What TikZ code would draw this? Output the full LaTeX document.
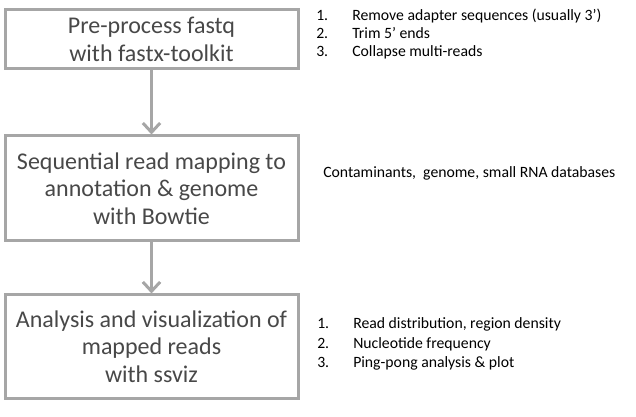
\documentclass[tikz,border=0pt]{standalone}
\usepackage{fontspec}
\setmainfont{Carlito}
\usetikzlibrary{arrows.meta}
\definecolor{boxline}{RGB}{166,166,166}
\definecolor{boxtext}{RGB}{72,72,72}

\begin{document}
\begin{tikzpicture}[x=0.75pt,y=-0.75pt,
  stage/.style={draw=boxline, line width=2.25pt, fill=white, text=boxtext, align=center,
    minimum width=219.75pt, inner sep=0pt, font=\fontsize{18}{20.6}\selectfont},
  flow/.style={draw=boxline, line width=2.25pt, -{Straight Barb[length=7pt,width=13pt]}},
  item/.style={anchor=base west, inner sep=0pt, font=\fontsize{11.8}{14}\selectfont}]
\useasboundingbox (0,0) rectangle (636,417);

\node[stage, minimum height=44.25pt] (pre) at (151.5,39.5) {Pre-process fastq\\with fastx-toolkit};
\node[stage, minimum height=78.75pt] (map) at (151.5,188.5) {Sequential read mapping to\\annotation \& genome\\with Bowtie};
\node[stage, minimum height=77.6pt] (viz) at (151.5,346.7) {Analysis and visualization of\\mapped reads\\with ssviz};

\draw[flow] (pre) -- (map);
\draw[flow] (map) -- (viz);

\node[item] (trim1) at (316,21) {\makebox[27pt][l]{1.}Remove adapter sequences (usually 3’)};
\node[item] (trim2) at (316,39) {\makebox[27pt][l]{2.}Trim 5’ ends};
\node[item] (trim3) at (316,57) {\makebox[27pt][l]{3.}Collapse multi-reads};

\node[item] (dbs) at (323,178) {Contaminants,~ genome, small RNA databases};

\node[item] (plot1) at (317,329) {\makebox[27pt][l]{1.}Read distribution, region density};
\node[item] (plot2) at (317,348.5) {\makebox[27pt][l]{2.}Nucleotide frequency};
\node[item] (plot3) at (317,368) {\makebox[27pt][l]{3.}Ping-pong analysis \& plot};
\end{tikzpicture}
\end{document}
